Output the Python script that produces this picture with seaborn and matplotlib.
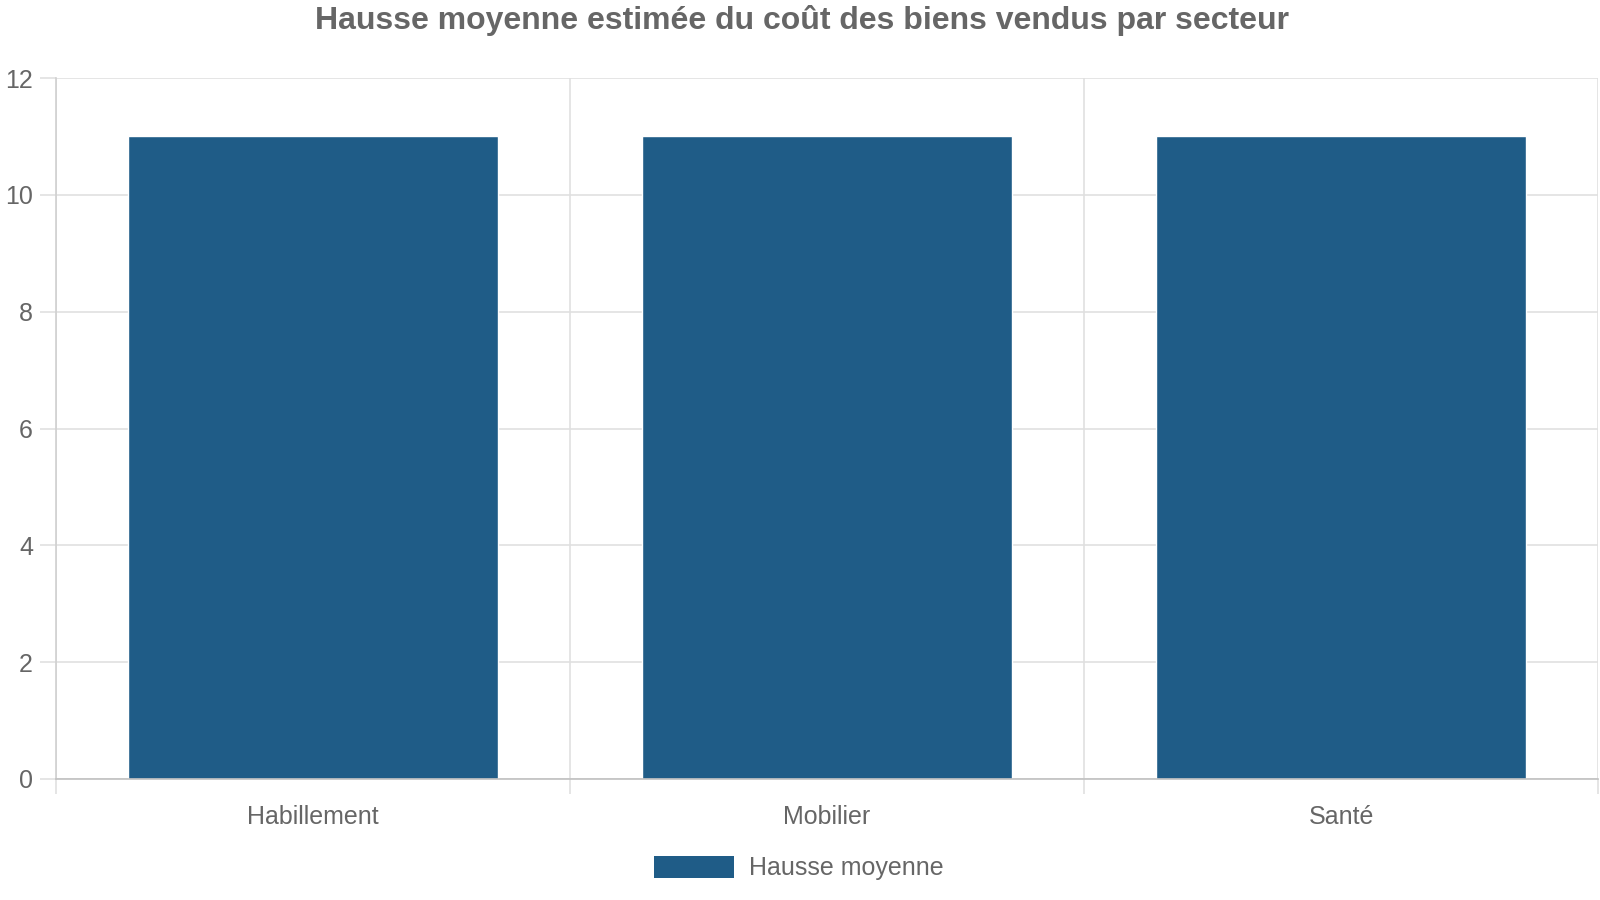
import matplotlib
matplotlib.use("Agg")
import matplotlib.pyplot as plt
import pandas as pd
import seaborn as sns
from matplotlib.patches import Patch

categories = ["Habillement", "Mobilier", "Santé"]
values = [11, 11, 11]
series_name = "Hausse moyenne"
title = "Hausse moyenne estimée du coût des biens vendus par secteur"
y_ticks = [0, 2, 4, 6, 8, 10, 12]

bar_color = "#1f5c87"
text_color = "#666666"
grid_color = "#e0e0e0"

sns.set_style("white")
plt.rcParams["font.family"] = ["Liberation Sans", "DejaVu Sans"]

df = pd.DataFrame({"secteur": categories, "valeur": values})

fig = plt.figure(figsize=(16, 9), dpi=100)
ax = fig.add_axes([56 / 1600, 1 - 779 / 900, (1598 - 56) / 1600, (779 - 78) / 900])

sns.barplot(data=df, x="secteur", y="valeur", color=bar_color, width=0.72,
            saturation=1, ax=ax, zorder=3)

ax.set_xlim(-0.5, len(categories) - 0.5)
ax.set_ylim(0, 12)
ax.set_yticks(y_ticks)
ax.set_xlabel("")
ax.set_ylabel("")

# category boundaries as minor ticks for vertical grid lines
ax.set_xticks([i - 0.5 for i in range(len(categories) + 1)], minor=True)
ax.grid(True, axis="y", color=grid_color, linewidth=1.2, zorder=0)
ax.grid(True, axis="x", which="minor", color=grid_color, linewidth=1.2, zorder=0)
ax.grid(False, axis="x", which="major")

ax.tick_params(axis="x", which="major", bottom=True, length=0, pad=19,
               labelsize=18, labelcolor=text_color)
ax.tick_params(axis="x", which="minor", bottom=True, length=11, width=1.2, color=grid_color)
ax.tick_params(axis="y", left=True, length=11.5, width=1.2, color=grid_color, pad=5,
               labelsize=18, labelcolor=text_color)

for s in ["top", "right"]:
    ax.spines[s].set_visible(False)
ax.spines["left"].set_color("#d0d0d0")
ax.spines["left"].set_linewidth(1.2)
ax.spines["bottom"].set_color("#c0c0c0")
ax.spines["bottom"].set_linewidth(1.2)
ax.spines["bottom"].set_zorder(4)

fig.suptitle(title, x=0.501, y=1 - 21 / 900, va="center", fontsize=23,
             fontweight="bold", color=text_color)

handles = [Patch(facecolor=bar_color, edgecolor="none", label=series_name)]
fig.legend(handles=handles, loc="center", bbox_to_anchor=(0.499, 1 - 868 / 900),
           frameon=False, fontsize=18, labelcolor=text_color,
           handlelength=3.2, handleheight=1.0, handletextpad=0.6)

fig.savefig("out.png", dpi=100)
